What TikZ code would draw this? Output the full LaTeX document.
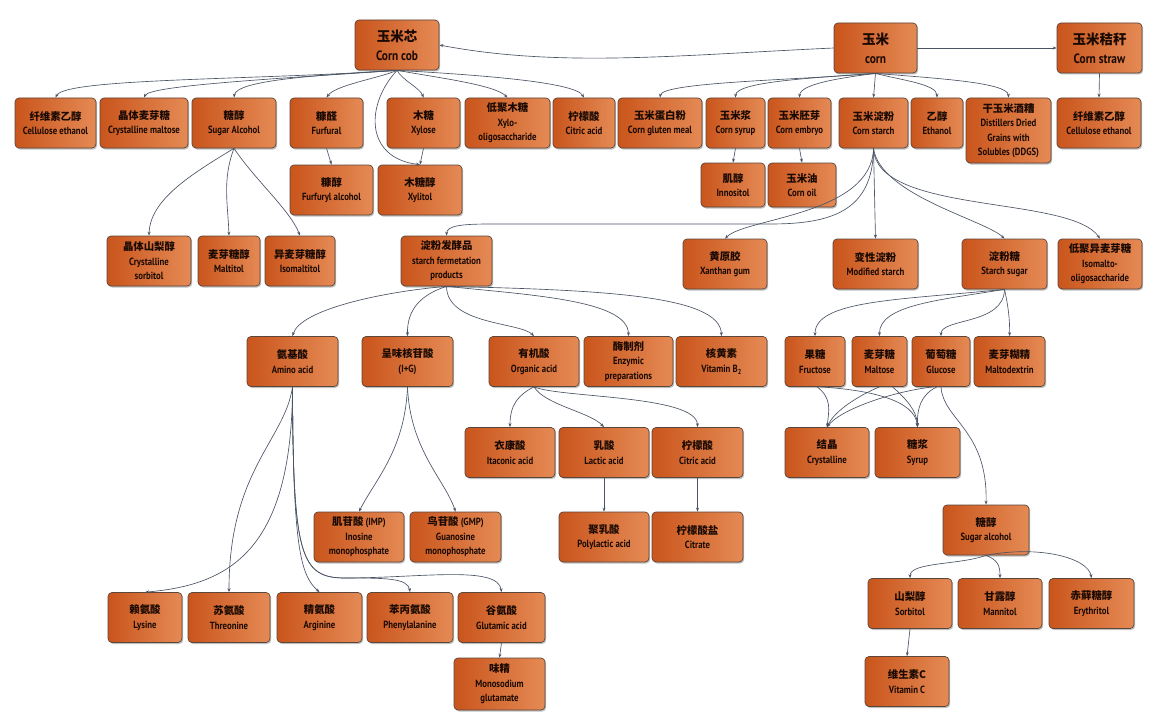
\documentclass[tikz,border=0pt]{standalone}
\usepackage{fontspec}
\setmainfont{PT Sans}[FakeStretch=0.84]
\newfontfamily\cjk{Noto Sans CJK SC}
\usetikzlibrary{arrows.meta,shadows}
\definecolor{boxL}{HTML}{C9551C}
\definecolor{boxR}{HTML}{E58A55}
\definecolor{boxD}{HTML}{5A463A}
\definecolor{lnk}{HTML}{4A5464}
\definecolor{txt}{HTML}{1A0A03}
\newcommand\nlab[2]{{\cjk #1}\\#2}
\tikzset{
 box/.style={rounded corners=4pt, draw=boxD, line width=0.7pt, left color=boxL, right color=boxR,
   drop shadow={shadow xshift=1.2pt, shadow yshift=-1.5pt, fill=black!50, opacity=0.5},
   inner sep=1pt, align=center, text=txt, font=\fontsize{10.4}{14.5}\selectfont\bfseries, minimum height=50pt},
 big/.style={box, font=\fontsize{13.5}{19}\selectfont\bfseries},
 lk/.style={draw=lnk, line width=0.65pt, -{Stealth[length=4pt,width=3pt]}},
}
\begin{document}
\begin{tikzpicture}[x=1pt,y=-1pt]
\useasboundingbox[fill=white] (0,0) rectangle (1171,717);
% top
\node[big, minimum width=84pt] (cob) at (397,45) {\nlab{玉米芯}{Corn cob}};
\node[big, minimum width=83pt] (corn) at (875.5,48) {\nlab{玉米}{corn}};
\node[big, minimum width=85pt] (straw) at (1099.5,48) {\nlab{玉米秸秆}{Corn straw}};
% row 2
\node[box, minimum width=81pt] (ce1) at (55.5,123) {\nlab{纤维素乙醇}{Cellulose ethanol}};
\node[box, minimum width=88pt] (cmalt) at (144,123) {\nlab{晶体麦芽糖}{Crystalline maltose}};
\node[box, minimum width=84pt] (salc) at (234,123) {\nlab{糖醇}{Sugar Alcohol}};
\node[box, minimum width=73pt] (furf) at (326.5,123) {\nlab{糠醛}{Furfural}};
\node[box, minimum width=73pt] (xyl) at (423.5,123) {\nlab{木糖}{Xylose}};
\node[box, minimum width=85pt] (xos) at (507.5,123) {\nlab{低聚木糖}{Xylo-\\oligosaccharide}};
\node[box, minimum width=62pt] (cit1) at (584,123) {\nlab{柠檬酸}{Citric acid}};
\node[box, minimum width=84pt] (cgm) at (660,123) {\nlab{玉米蛋白粉}{Corn gluten meal}};
\node[box, minimum width=59pt] (csyr) at (735.5,123) {\nlab{玉米浆}{Corn syrup}};
\node[box, minimum width=63pt] (cemb) at (799.5,123) {\nlab{玉米胚芽}{Corn embryo}};
\node[box, minimum width=69pt] (cstarch) at (873.5,123) {\nlab{玉米淀粉}{Corn starch}};
\node[box, minimum width=52pt] (eth) at (937,123) {\nlab{乙醇}{Ethanol}};
\node[box, minimum width=85pt, minimum height=65pt] (ddgs) at (1008.5,130.5) {\nlab{干玉米酒糟}{Distillers Dried\\Grains with\\Solubles (DDGS)}};
\node[box, minimum width=84pt] (ce2) at (1099,123) {\nlab{纤维素乙醇}{Cellulose ethanol}};
% row 3
\node[box, minimum width=83pt] (ffa) at (331.5,190) {\nlab{糠醇}{Furfuryl alcohol}};
\node[box, minimum width=84pt] (xylitol) at (420,190) {\nlab{木糖醇}{Xylitol}};
\node[box, minimum width=64pt, minimum height=44pt] (inos) at (733,185) {\nlab{肌醇}{Innositol}};
\node[box, minimum width=68pt, minimum height=44pt] (coil) at (802,185) {\nlab{玉米油}{Corn oil}};
% row 4
\node[box, minimum width=84pt] (csorb) at (149,261) {\nlab{晶体山梨醇}{Crystalline\\sorbitol}};
\node[box, minimum width=62pt] (maltitol) at (229,261) {\nlab{麦芽糖醇}{Maltitol}};
\node[box, minimum width=70pt] (isomaltitol) at (300,261) {\nlab{异麦芽糖醇}{Isomaltitol}};
\node[box, minimum width=91pt] (sfp) at (446.5,261) {\nlab{淀粉发酵品}{starch fermetation\\products}};
\node[box, minimum width=84pt] (xanthan) at (725,264) {\nlab{黄原胶}{Xanthan gum}};
\node[box, minimum width=85pt] (modst) at (875.5,264) {\nlab{变性淀粉}{Modified starch}};
\node[box, minimum width=85pt] (ssugar) at (1004.5,264) {\nlab{淀粉糖}{Starch sugar}};
\node[box, minimum width=84pt] (imo) at (1100,264) {\nlab{低聚异麦芽糖}{Isomalto-\\oligosaccharide}};
% row 5
\node[box, minimum width=91pt] (amino) at (292.5,361.5) {\nlab{氨基酸}{Amino acid}};
\node[box, minimum width=91pt] (ig) at (407.5,361.5) {\nlab{呈味核苷酸}{(I+G)}};
\node[box, minimum width=90pt] (orga) at (534,361.5) {\nlab{有机酸}{Organic acid}};
\node[box, minimum width=89pt] (enz) at (628.5,361.5) {\nlab{酶制剂}{Enzymic\\preparations}};
\node[box, minimum width=91pt] (vb2) at (721.5,361.5) {\nlab{核黄素}{Vitamin B\textsubscript{2}}};
\node[box, minimum width=60pt] (fruc) at (815,361.5) {\nlab{果糖}{Fructose}};
\node[box, minimum width=55pt] (maltose) at (879.5,361.5) {\nlab{麦芽糖}{Maltose}};
\node[box, minimum width=58pt] (glucose) at (941,361.5) {\nlab{葡萄糖}{Glucose}};
\node[box, minimum width=71pt] (maltodex) at (1009.5,361.5) {\nlab{麦芽糊精}{Maltodextrin}};
% row 6
\node[box, minimum width=90pt] (itac) at (510,452.5) {\nlab{衣康酸}{Itaconic acid}};
\node[box, minimum width=90pt] (lact) at (604,452.5) {\nlab{乳酸}{Lactic acid}};
\node[box, minimum width=91pt] (cit2) at (697.5,452.5) {\nlab{柠檬酸}{Citric acid}};
\node[box, minimum width=84pt] (cryst) at (827,452.5) {\nlab{结晶}{Crystalline}};
\node[box, minimum width=85pt] (syrup) at (917.5,452.5) {\nlab{糖浆}{Syrup}};
% row 7
\node[box, minimum width=90pt] (imp) at (359,537) {{\cjk 肌苷酸} (IMP)\\Inosine\\monophosphate};
\node[box, minimum width=91pt] (gmp) at (455.5,537) {{\cjk 鸟苷酸} (GMP)\\Guanosine\\monophosphate};
\node[box, minimum width=90pt] (pla) at (604,537) {\nlab{聚乳酸}{Polylactic acid}};
\node[box, minimum width=91pt] (citrate) at (697.5,537) {\nlab{柠檬酸盐}{Citrate}};
\node[box, minimum width=86pt] (salc2) at (986,530) {\nlab{糖醇}{Sugar alcohol}};
% row 8
\node[box, minimum width=84pt] (sorb) at (910,603.5) {\nlab{山梨醇}{Sorbitol}};
\node[box, minimum width=84pt] (mann) at (1000,603.5) {\nlab{甘露醇}{Mannitol}};
\node[box, minimum width=85pt] (eryth) at (1091.5,603.5) {\nlab{赤藓糖醇}{Erythritol}};
\node[box, minimum width=74pt] (lys) at (145,617.5) {\nlab{赖氨酸}{Lysine}};
\node[box, minimum width=82pt] (thr) at (229,617.5) {\nlab{苏氨酸}{Threonine}};
\node[box, minimum width=85pt] (arg) at (319.5,617.5) {\nlab{精氨酸}{Arginine}};
\node[box, minimum width=86pt] (phe) at (410,617.5) {\nlab{苯丙氨酸}{Phenylalanine}};
\node[box, minimum width=87pt] (glu) at (501.5,617.5) {\nlab{谷氨酸}{Glutamic acid}};
\node[box, minimum width=91pt, minimum height=52pt] (msg) at (499.5,684) {\nlab{味精}{Monosodium\\glutamate}};
\node[box, minimum width=84pt] (vitc) at (907,681.5) {\nlab{维生素C}{Vitamin C}};

% connectors: corn cob
\draw[lk] (corn.west) .. controls (680,55) and (560,68) .. (cob.east);
\draw[lk] (corn.east) -- (straw.west);
\draw[lk] (straw.south) -- (ce2.north);
\draw[lk] (cob.south) .. controls (260,80) and (65,78) .. (ce1.north);
\draw[lk] (cob.south) .. controls (290,78) and (150,85) .. (cmalt.north);
\draw[lk] (cob.south) .. controls (320,75) and (236,80) .. (salc.north);
\draw[lk] (cob.south) .. controls (380,78) and (335,85) .. (furf.north);
\draw[lk] (cob.south) .. controls (402,80) and (420,88) .. (xyl.north);
\draw[lk] (cob.south) .. controls (440,78) and (495,85) .. (xos.north);
\draw[lk] (cob.south) .. controls (480,75) and (575,82) .. (cit1.north);
\draw[lk] (cob.south) .. controls (365,105) and (365,158) .. (xylitol.north);
\draw[lk] (furf.south) -- (ffa.north);
\draw[lk] (xyl.south) -- (xylitol.north);
\draw[lk] (salc.south) .. controls (190,175) and (150,200) .. (csorb.north);
\draw[lk] (salc.south) .. controls (222,180) and (228,205) .. (maltitol.north);
\draw[lk] (salc.south) .. controls (255,180) and (290,210) .. (isomaltitol.north);
% corn
\draw[lk] (corn.south) .. controls (800,80) and (662,82) .. (cgm.north);
\draw[lk] (corn.south) .. controls (810,78) and (736,82) .. (csyr.north);
\draw[lk] (corn.south) .. controls (840,78) and (800,84) .. (cemb.north);
\draw[lk] (corn.south) -- (cstarch.north);
\draw[lk] (corn.south) .. controls (900,80) and (937,84) .. (eth.north);
\draw[lk] (corn.south) .. controls (930,78) and (1008,82) .. (ddgs.north);
\draw[lk] (csyr.south) -- (inos.north);
\draw[lk] (cemb.south) -- (coil.north);
% corn starch
\draw[lk] (cstarch.south) .. controls (873,212) and (830,224) .. (770,224) -- (490,224) .. controls (460,224) and (447,226) .. (sfp.north);
\draw[lk] (cstarch.south) .. controls (872,215) and (745,218) .. (xanthan.north);
\draw[lk] (cstarch.south) -- (modst.north);
\draw[lk] (cstarch.south) .. controls (880,195) and (985,220) .. (ssugar.north);
\draw[lk] (cstarch.south) .. controls (876,215) and (1070,195) .. (imo.north);
% starch fermentation products
\draw[lk] (sfp.south) .. controls (380,292) and (300,310) .. (amino.north);
\draw[lk] (sfp.south) .. controls (420,295) and (407,310) .. (ig.north);
\draw[lk] (sfp.south) .. controls (447,325) and (520,322) .. (orga.north);
\draw[lk] (sfp.south) .. controls (530,295) and (628,300) .. (enz.north);
\draw[lk] (sfp.south) .. controls (600,290) and (720,295) .. (vb2.north);
% I+G
\draw[lk] (ig.south) .. controls (405,450) and (375,480) .. (imp.north);
\draw[lk] (ig.south) .. controls (410,450) and (445,480) .. (gmp.north);
% amino acids
\draw[lk] (amino.south) .. controls (292,550) and (230,585) .. (lys.north);
\draw[lk] (amino.south) .. controls (285,440) and (229,470) .. (thr.north);
\draw[lk] (amino.south) .. controls (293,545) and (300,575) .. (arg.north);
\draw[lk] (amino.south) .. controls (293,555) and (300,578) .. (345,578) .. controls (385,578) and (408,578) .. (phe.north);
\draw[lk] (amino.south) .. controls (293,555) and (300,578) .. (345,578) .. controls (420,578) and (498,565) .. (glu.north);
\draw[lk] (glu.south) -- (msg.north);
% organic acids
\draw[lk] (orga.south) .. controls (518,395) and (510,405) .. (itac.north);
\draw[lk] (orga.south) .. controls (545,405) and (590,412) .. (lact.north);
\draw[lk] (orga.south) .. controls (560,398) and (697,395) .. (cit2.north);
\draw[lk] (lact.south) -- (pla.north);
\draw[lk] (cit2.south) -- (citrate.north);
% starch sugar
\draw[lk] (ssugar.south) .. controls (900,300) and (815,300) .. (fruc.north);
\draw[lk] (ssugar.south) .. controls (940,300) and (879,305) .. (maltose.north);
\draw[lk] (ssugar.south) .. controls (1004,325) and (941,318) .. (glucose.north);
\draw[lk] (ssugar.south) .. controls (1008,305) and (1010,320) .. (maltodex.north);
\draw[lk] ([xshift=2pt]fruc.south) .. controls (832,398) and (829,410) .. (cryst.north);
\draw[lk] ([xshift=5pt]fruc.south) .. controls (870,390) and (915,400) .. (syrup.north);
\draw[lk] (maltose.south) .. controls (860,395) and (835,410) .. (cryst.north);
\draw[lk] ([xshift=13pt]maltose.south) .. controls (905,398) and (917,410) .. (syrup.north);
\draw[lk] ([xshift=-8pt]glucose.south) .. controls (890,392) and (840,410) .. (cryst.north);
\draw[lk] ([xshift=-4pt]glucose.south) .. controls (920,395) and (917,410) .. (syrup.north);
\draw[lk] (glucose.south) .. controls (943,420) and (988,430) .. (salc2.north);
% sugar alcohol
\draw[lk] (salc2.south) .. controls (960,565) and (910,562) .. (sorb.north);
\draw[lk] (salc2.south) .. controls (998,560) and (1000,566) .. (mann.north);
\draw[lk] (salc2.south) .. controls (1040,545) and (1088,558) .. (eryth.north);
\draw[lk] (sorb.south) -- (vitc.north);
\end{tikzpicture}
\end{document}
